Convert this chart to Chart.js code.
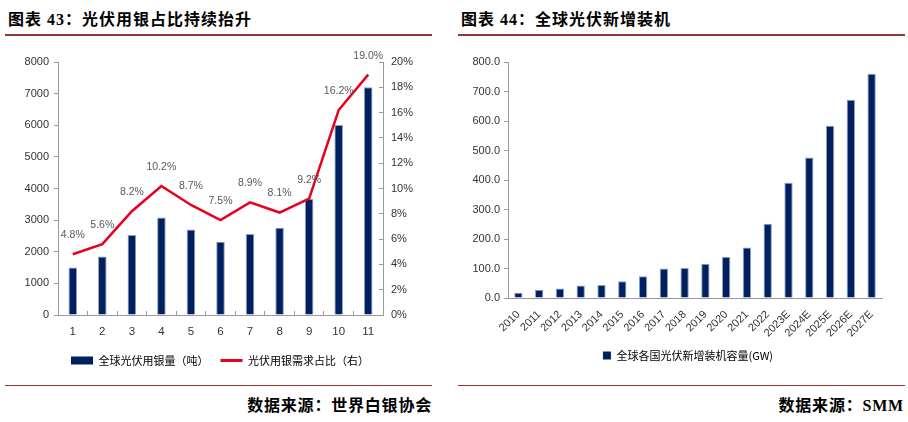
<!DOCTYPE html>
<html>
<head>
<meta charset="utf-8">
<script src="https://cdn.jsdelivr.net/npm/chart.js@4.4.0/dist/chart.umd.min.js"></script>
<style>
  body { margin: 0; background: #fff; width: 908px; height: 422px; overflow: hidden; position: relative; }
  .title { position: absolute; top: 6px; font: bold 16px 'Liberation Serif', 'Noto Sans CJK SC', serif; color: #000; white-space: nowrap; letter-spacing: 1px; }
  .rule { position: absolute; background: #943634; }
  .source { position: absolute; top: 392px; font: bold 16px 'Liberation Serif', 'Noto Sans CJK SC', serif; color: #000; text-align: right; white-space: nowrap; letter-spacing: 0.8px; }
  .box { position: absolute; top: 40px; height: 345px; }
</style>
</head>
<body>
<div class="title" style="left:8px">图表 43：光伏用银占比持续抬升</div>
<div class="rule" style="left:5px; width:427px; top:34px; height:2px"></div>
<div class="box" style="left:0; width:440px"><canvas id="silverChart"></canvas></div>
<div class="rule" style="left:5px; width:427px; top:385px; height:1px"></div>
<div class="source" style="right:476px">数据来源：世界白银协会</div>

<div class="title" style="left:461px">图表 44：全球光伏新增装机</div>
<div class="rule" style="left:458px; width:447px; top:34px; height:2px"></div>
<div class="box" style="left:454px; width:468px"><canvas id="pvChart"></canvas></div>
<div class="rule" style="left:458px; width:447px; top:385px; height:1px"></div>
<div class="source" style="right:4px">数据来源：SMM</div>

<script>
// chart 43 data
const silverYears = ['1', '2', '3', '4', '5', '6', '7', '8', '9', '10', '11'];
const silverTons = [1500, 1850, 2530, 3080, 2700, 2320, 2560, 2760, 3670, 6010, 7200];
const silverShare = [4.8, 5.6, 8.2, 10.2, 8.7, 7.5, 8.9, 8.1, 9.2, 16.2, 19.0];

// chart 44 data
const pvYears = ['2010', '2011', '2012', '2013', '2014', '2015', '2016', '2017', '2018',
  '2019', '2020', '2021', '2022', '2023E', '2024E', '2025E', '2026E', '2027E'];
const pvInstalled = [18, 28, 32, 42, 44, 57, 74, 100, 102, 116, 139, 171, 252, 391, 476, 584, 672, 760];

const NAVY = '#002060';
const RED = '#E8001C';
const AXIS = '#9a9a9a';
const numFont = "'Liberation Sans Narrow', 'Arial Narrow', 'Liberation Sans', sans-serif";
const cjkFont = "'Noto Sans CJK SC', sans-serif";

// percentage labels above the line points
const shareLabels = {
    id: 'shareLabels',
    afterDatasetsDraw(chart) {
        const meta = chart.getDatasetMeta(1);
        const ctx = chart.ctx;
        ctx.save();
        ctx.font = '10.5px ' + numFont;
        ctx.fillStyle = '#595959';
        ctx.textAlign = 'center';
        ctx.textBaseline = 'middle';
        meta.data.forEach((pt, i) => {
            ctx.fillText(silverShare[i].toFixed(1) + '%', pt.x, pt.y - 19);
        });
        ctx.restore();
    }
};

function legendItems(chart) {
    return chart.data.datasets.map((ds, i) => ({
        text: ds.label,
        fillStyle: ds.type === 'line' ? ds.borderColor : ds.backgroundColor,
        strokeStyle: ds.type === 'line' ? ds.borderColor : ds.backgroundColor,
        lineWidth: ds.type === 'line' ? 3 : 0,
        pointStyle: ds.type === 'line' ? 'line' : 'rect',
        datasetIndex: i
    }));
}

function initSilverChart() {
    const ctx = document.getElementById('silverChart').getContext('2d');
    new Chart(ctx, {
        data: {
            labels: silverYears,
            datasets: [{
                type: 'bar',
                label: '全球光伏用银量（吨）',
                data: silverTons,
                backgroundColor: NAVY,
                borderColor: '#8c9dbd',
                borderWidth: { left: 1, right: 1, top: 1, bottom: 0 },
                barPercentage: 0.29,
                categoryPercentage: 1,
                yAxisID: 'y',
                order: 1
            }, {
                type: 'line',
                label: '光伏用银需求占比（右）',
                data: silverShare,
                borderColor: RED,
                borderWidth: 2.5,
                pointRadius: 0,
                tension: 0,
                yAxisID: 'y1',
                order: 0
            }]
        },
        options: {
            responsive: true,
            maintainAspectRatio: false,
            animation: false,
            layout: { padding: { top: 22, left: 0, right: 0, bottom: 9 } },
            scales: {
                x: {
                    grid: { display: true, drawOnChartArea: false, tickLength: -4, color: AXIS },
                    border: { color: AXIS },
                    ticks: { color: '#333', font: { family: numFont, size: 11.5 }, padding: 14 },
                    afterFit: (s) => { s.height = 28; }
                },
                y: {
                    position: 'left',
                    min: 0, max: 8000,
                    ticks: { stepSize: 1000, color: '#333', font: { family: numFont, size: 11 }, padding: 5,
                        callback: (v) => String(v) },
                    grid: { display: true, drawOnChartArea: false, tickLength: 4, color: AXIS },
                    border: { color: AXIS },
                    afterFit: (s) => { s.width = 58; }
                },
                y1: {
                    position: 'right',
                    min: 0, max: 20,
                    ticks: { stepSize: 2, color: '#333', font: { family: numFont, size: 11 }, padding: 12,
                        callback: (v) => v + '%' },
                    grid: { display: true, drawOnChartArea: false, tickLength: -4, color: AXIS },
                    border: { color: AXIS },
                    afterFit: (s) => { s.width = 57; }
                }
            },
            plugins: {
                legend: {
                    position: 'bottom',
                    labels: {
                        usePointStyle: true,
                        pointStyleWidth: 22,
                        boxHeight: 8,
                        padding: 12,
                        color: '#595959',
                        font: { family: cjkFont, size: 11 },
                        generateLabels: legendItems
                    }
                },
                tooltip: { enabled: false }
            }
        },
        plugins: [shareLabels]
    });
}

function initPvChart() {
    const ctx = document.getElementById('pvChart').getContext('2d');
    new Chart(ctx, {
        type: 'bar',
        data: {
            labels: pvYears,
            datasets: [{
                label: '全球各国光伏新增装机容量(GW)',
                data: pvInstalled,
                backgroundColor: NAVY,
                borderColor: '#8c9dbd',
                borderWidth: { left: 1, right: 1, top: 1, bottom: 0 },
                barPercentage: 0.4,
                categoryPercentage: 1
            }]
        },
        options: {
            responsive: true,
            maintainAspectRatio: false,
            animation: false,
            layout: { padding: { top: 22, left: 0, right: 0, bottom: 14 } },
            scales: {
                x: {
                    grid: { display: false },
                    border: { color: AXIS },
                    ticks: { color: '#333', font: { family: numFont, size: 11 }, padding: 2,
                        autoSkip: false, minRotation: 45, maxRotation: 45 },
                    afterFit: (s) => { s.height = 40; }
                },
                y: {
                    min: 0, max: 800,
                    ticks: { stepSize: 100, color: '#333', font: { family: numFont, size: 11 }, padding: 4,
                        callback: (v) => v.toFixed(1) },
                    grid: { display: true, drawOnChartArea: false, tickLength: 4, color: AXIS },
                    border: { color: AXIS },
                    afterFit: (s) => { s.width = 54; }
                },
                // empty right-hand spacer so the legend sits where the original has it
                spacer: {
                    position: 'right',
                    ticks: { display: false },
                    grid: { display: false },
                    border: { display: false },
                    afterFit: (s) => { s.width = 40; }
                }
            },
            plugins: {
                legend: {
                    position: 'bottom',
                    labels: {
                        usePointStyle: true,
                        pointStyleWidth: 8,
                        boxHeight: 8,
                        padding: 12,
                        color: '#595959',
                        font: { family: cjkFont, size: 11 },
                        generateLabels: legendItems
                    }
                },
                tooltip: { enabled: false }
            }
        }
    });
}

document.addEventListener('DOMContentLoaded', () => {
    initSilverChart();
    initPvChart();
});
</script>
</body>
</html>
